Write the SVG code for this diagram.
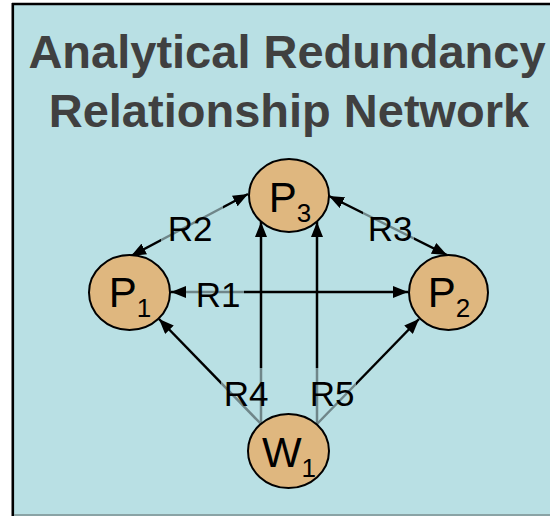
<svg xmlns="http://www.w3.org/2000/svg" width="550" height="516" viewBox="0 0 550 516">
  <style>
    .title { font-family: "Liberation Sans", Arial, sans-serif; font-weight: bold; font-size: 47px; fill: #404040; text-anchor: middle; }
    .edge { stroke: #000; stroke-width: 2.5; fill: none; }
    .both { marker-start: url(#arrow); marker-end: url(#arrow); }
    .one { marker-end: url(#arrow); }
    .lblbox { fill: #b9e0e4; fill-opacity: 0.6; }
    .lbl { font-family: "Liberation Sans", Arial, sans-serif; font-size: 35px; fill: #000; text-anchor: middle; }
    .node ellipse { fill: #dfb77f; stroke: #000; stroke-width: 2; }
    .node text { font-family: "Liberation Sans", Arial, sans-serif; font-size: 42px; fill: #000; text-anchor: middle; }
    .sub { font-size: 26px; }
  </style>
  <defs>
    <marker id="arrow" markerUnits="userSpaceOnUse" markerWidth="16" markerHeight="12" refX="15" refY="6" orient="auto-start-reverse">
      <path d="M0,0 L15,6 L0,12 z" fill="#000"/>
    </marker>
  </defs>

  <!-- panel -->
  <rect x="0" y="0" width="550" height="516" fill="#ffffff"/>
  <rect x="13" y="4" width="560" height="511" fill="#b9e0e4"/>
  <line x1="12.8" y1="3" x2="12.8" y2="516" stroke="#000" stroke-width="2.6"/>
  <line x1="12" y1="4" x2="550" y2="4" stroke="#000" stroke-width="2.6"/>
  <line x1="14" y1="515" x2="550" y2="515" stroke="#8aa3a5" stroke-width="2"/>

  <!-- heading -->
  <text class="title" x="287" y="68">Analytical Redundancy</text>
  <text class="title" x="289" y="127">Relationship Network</text>

  <!-- connectors -->
  <g id="connectors">
    <line id="e-r1" class="edge both" x1="171" y1="292" x2="408" y2="292"/>
    <line id="e-r2" class="edge both" x1="248" y1="194" x2="131" y2="256"/>
    <line id="e-r3" class="edge both" x1="329" y1="196" x2="447" y2="255"/>
    <line id="e-w1-p3a" class="edge one" x1="261" y1="424" x2="261" y2="222"/>
    <line id="e-w1-p3b" class="edge one" x1="317" y1="424" x2="317" y2="222"/>
    <line id="e-r4" class="edge one" x1="261" y1="424" x2="159" y2="319"/>
    <line id="e-r5" class="edge one" x1="317" y1="424" x2="419" y2="319"/>
  </g>

  <!-- connector labels -->
  <g id="labels">
    <rect class="lblbox" x="186" y="272" width="58" height="42"/>
    <text class="lbl" x="218" y="307">R1</text>
    <rect class="lblbox" x="161" y="205" width="62" height="44"/>
    <text class="lbl" x="190" y="241">R2</text>
    <rect class="lblbox" x="363" y="205" width="51" height="44"/>
    <text class="lbl" x="390" y="241">R3</text>
    <rect class="lblbox" x="221" y="368" width="50" height="58"/>
    <text class="lbl" x="246" y="406">R4</text>
    <rect class="lblbox" x="309" y="368" width="47" height="58"/>
    <text class="lbl" x="332" y="406">R5</text>
  </g>

  <!-- nodes -->
  <g id="node-p3" class="node">
    <ellipse cx="289" cy="195.5" rx="40" ry="36.5"/>
    <text x="290" y="212">P<tspan class="sub" dy="10">3</tspan></text>
  </g>
  <g id="node-p1" class="node">
    <ellipse cx="129.5" cy="292.5" rx="40.5" ry="37.5"/>
    <text x="130" y="307">P<tspan class="sub" dy="10">1</tspan></text>
  </g>
  <g id="node-p2" class="node">
    <ellipse cx="448.5" cy="292.5" rx="39.5" ry="37.5"/>
    <text x="449" y="307">P<tspan class="sub" dy="10">2</tspan></text>
  </g>
  <g id="node-w1" class="node">
    <ellipse cx="288.5" cy="451" rx="40.5" ry="37"/>
    <text x="289" y="467">W<tspan class="sub" dy="10">1</tspan></text>
  </g>
</svg>
